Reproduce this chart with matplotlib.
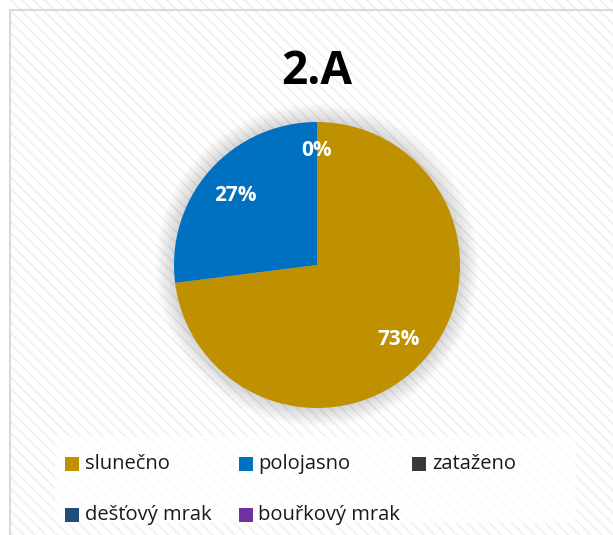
import numpy as np
import matplotlib.pyplot as plt
from matplotlib.patches import Rectangle, Circle

plt.rcParams['font.family'] = ['Open Sans', 'DejaVu Sans']
plt.rcParams['hatch.linewidth'] = 1.3

title = '2.A'
labels = ['slunečno', 'polojasno', 'zataženo', 'dešťový mrak', 'bouřkový mrak']
values = [73, 27, 0, 0, 0]
colors = ['#BF9000', '#0070C0', '#3A3838', '#1F4E79', '#7030A0']

W, H = 613, 535
fig = plt.figure(figsize=(W / 100, H / 100), dpi=100)
fig.patch.set_facecolor('white')


def fx(px):
    return px / W


def fy(py):
    return 1 - py / H


# chart area: hatched background + light border
fig.patches.append(Rectangle((fx(10), fy(560)), fx(640), 560 / H, transform=fig.transFigure,
                             facecolor='white', edgecolor='#F0F0F0', hatch='\\\\\\',
                             linewidth=0, zorder=-3))
fig.patches.append(Rectangle((fx(10), fy(560)), fx(640), 550 / H, transform=fig.transFigure,
                             facecolor='none', edgecolor='#D9D9D9', linewidth=1.5, zorder=-2))
# legend box background
fig.patches.append(Rectangle((fx(55), fy(523)), fx(521), 87 / H, transform=fig.transFigure,
                             facecolor='white', edgecolor='none', alpha=0.75, zorder=-2))

# pie axes: center (317, 265) px, radius 143 px
cx, cy, r = 317, 265, 143
pad = 30
ax = fig.add_axes([fx(cx - r - pad), fy(cy + r + pad), (2 * r + 2 * pad) / W, (2 * r + 2 * pad) / H])
ax.set_zorder(5)
ax.patch.set_alpha(0)
ax.axis('off')

# soft glow shadow
for k in range(20):
    ax.add_patch(Circle((0, 0), 1 + 0.0065 * (k + 1), facecolor='black',
                        edgecolor='none', alpha=0.009, zorder=1))

wedges, _ = ax.pie(values, colors=colors, startangle=90, counterclock=False,
                   radius=1, wedgeprops=dict(linewidth=0))
for w in wedges:
    w.set_zorder(2)
ax.set_aspect('equal')
ax.set_xlim(-1 - pad / r, 1 + pad / r)
ax.set_ylim(-1 - pad / r, 1 + pad / r)

# data labels
shown = False
total = sum(values)
acc = 0
for v in values:
    mid = 90 - (acc + v / 2) / total * 360
    acc += v
    if v == 0:
        if shown:
            continue
        shown = True
        d = 0.82
    else:
        d = 0.76
    ang = np.deg2rad(mid)
    ax.text(d * np.cos(ang), d * np.sin(ang) - 0.02, f'{v}%', color='white', fontsize=15,
            fontweight='bold', ha='center', va='center', zorder=3)

fig.text(fx(317), fy(71), title, ha='center', va='center', fontsize=33,
         fontweight='bold', color='black')

# legend, row-major with equal column width like Excel
for i, (lab, col) in enumerate(zip(labels, colors)):
    x0 = 65 + (i % 3) * 173.5
    y0 = 464 + (i // 3) * 51
    fig.patches.append(Rectangle((fx(x0), fy(y0 + 7)), fx(14), 14 / H, transform=fig.transFigure,
                                 facecolor=col, edgecolor='none', zorder=3))
    fig.text(fx(x0 + 20), fy(y0), lab, ha='left', va='center', fontsize=14.5,
             color='#1a1a1a')

fig.savefig('out.png', dpi=100)
